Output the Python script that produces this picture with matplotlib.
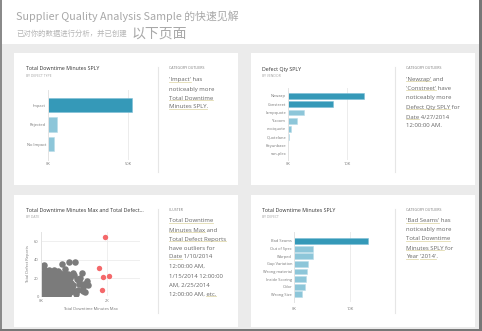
import matplotlib
matplotlib.use("Agg")
import matplotlib.pyplot as plt
from matplotlib.patches import Rectangle
from matplotlib.lines import Line2D

W, H = 482, 331
BODY = ["Open Sans", "DejaVu Sans"]
CJK = ["Noto Sans CJK SC", "DejaVu Sans"]
DARK = "#3599b8"
LIGHT = "#8dc6d9"

# card 1: total downtime by defect type
defect_types = ["Impact", "Rejected", "No Impact"]
downtime_by_type = [52500, 5600, 3800]

# card 2: defect qty by vendor
vendors = ["Newzap", "Constreet", "Iampquote", "Y-zoom", "ecotquote",
           "Quotelane", "Keyunbase", "san-plex"]
defect_qty = [12900, 7600, 2700, 1500, 500, 150, 0, 0]

# card 3: downtime max vs defect reports by date
gray_x = [20, 150, 290, 410, 560, 700, 820,
          60, 210, 340, 480, 620, 760, 880,
          10, 130, 270, 400, 530, 680, 800,
          70, 200, 330, 460, 600, 740,
          30, 160, 300, 430, 570, 690, 830,
          90, 220, 360, 500, 640, 760,
          40, 180, 310, 450, 590, 700,
          110, 250, 380, 520, 101, 60,
          85, 225, 350, 490, 630, 770,
          15, 140, 280, 420, 545, 690, 850,
          95, 235, 365, 505, 655, 780,
          20, 165, 295, 440, 575, 720,
          75, 205, 345, 470, 610,
          10, 140, 270, 420, 560, 200, 330,
          640, 859, 1040, 980, 1242, 1010, 1162, 1384, 1420, 1263,
          1111, 1263, 1343, 939, 859, 1080, 900, 980, 1050, 720,
          820, 880, 1000, 1300, 1141, 920, 1180]
gray_y = [1.2, 0.8, 1.5, 0.9, 1.1, 1.4, 0.7,
          5.3, 4.8, 5.6, 4.9, 5.2, 5.4, 4.6,
          9.1, 8.8, 9.4, 9.0, 8.7, 9.3, 9.5,
          13.2, 12.8, 13.4, 13.0, 12.6, 13.3,
          17.1, 16.7, 17.4, 16.9, 17.2, 17.0, 16.5,
          21.2, 20.8, 21.5, 21.0, 20.6, 21.3,
          25.1, 24.7, 25.3, 24.9, 25.4, 24.6,
          29.0, 28.6, 29.2, 27.8, 33.9, 31.5,
          3.1, 2.8, 3.3, 2.9, 3.2, 2.7,
          7.2, 6.9, 7.4, 7.0, 6.8, 7.3, 7.1,
          11.1, 10.8, 11.3, 10.9, 11.2, 10.7,
          15.2, 14.8, 15.3, 14.9, 15.1, 15.4,
          19.1, 18.8, 19.2, 18.9, 19.3,
          22.9, 23.2, 22.8, 23.1, 22.7, 27.2, 27.0,
          35.5, 37.1, 37.1, 25.5, 25.5, 23.0, 16.4, 16.4, 12.7, 9.8,
          7.3, 5.5, 4.7, 9.1, 3.6, 19.0, 15.0, 12.0, 2.0, 30.0,
          24.0, 20.0, 6.0, 13.0, 13.5, 5.5, 20.5]
red_x = [1949, 1768, 1869, 2060, 1838]
red_y = [64.8, 30.6, 20.7, 22.6, 6.9]

# card 4: total downtime by defect
defects = ["Bad Seams", "Out of Spec", "Warped", "Gap Variation",
           "Wrong material", "Inside Scoring", "Odor", "Wrong Size"]
downtime_by_defect = [13200, 3400, 3400, 2500, 2400, 2100, 2000, 1400]

fig = plt.figure(figsize=(W / 100, H / 100), dpi=100)
renderer = fig.canvas.get_renderer()


def fx(x):
    return x / W


def fy(y):
    return 1 - y / H


def rect(x0, y0, x1, y1, color, z=0):
    fig.add_artist(Rectangle((fx(x0), fy(y1)), (x1 - x0) / W, (y1 - y0) / H,
                             transform=fig.transFigure, facecolor=color,
                             edgecolor="none", zorder=z))


def vline(x, y0, y1, color="#e6e6e6", lw=0.8):
    fig.add_artist(Line2D([fx(x), fx(x)], [fy(y0), fy(y1)],
                          transform=fig.transFigure, color=color, lw=lw, zorder=2))


def txt(x, y, s, size, color, **kw):
    kw.setdefault("family", BODY)
    return fig.text(fx(x), fy(y), s, fontsize=size, color=color, va="center",
                    zorder=4, **kw)


def text_width(s, size):
    t = fig.text(0, 0, s + "|", fontsize=size, family=BODY)
    bar = fig.text(0, 0, "|", fontsize=size, family=BODY)
    w = t.get_window_extent(renderer).width - bar.get_window_extent(renderer).width
    t.remove()
    bar.remove()
    return w


def rich_line(x, y, line, underlined=(), size=4.3, color="#666666"):
    t = txt(x, y, line, size, color)
    bb = t.get_window_extent(renderer)
    for seg in underlined:
        start = line.index(seg)
        x0 = bb.x0 + text_width(line[:start], size)
        x1 = bb.x0 + text_width(line[:start + len(seg)], size)
        fig.add_artist(Line2D([x0 / W, x1 / W], [(bb.y0 + 0.3) / H] * 2,
                              transform=fig.transFigure, color="#e2dbb0",
                              lw=0.6, zorder=4))


def px_axes(x0, y0, x1, y1):
    ax = fig.add_axes([fx(x0), fy(y1), (x1 - x0) / W, (y1 - y0) / H])
    ax.set_zorder(3)
    ax.patch.set_alpha(0)
    for side in ("top", "right", "bottom"):
        ax.spines[side].set_visible(False)
    ax.spines["left"].set_color("#e3e3e3")
    ax.spines["left"].set_linewidth(0.7)
    ax.tick_params(length=0, labelsize=2.9, colors="#777777")
    return ax


def bar_card(box, cats, vals, n_dark, xmax, tick, ticklabel, ylims, height, xpad):
    ax = px_axes(*box)
    colors = [DARK if i < n_dark else LIGHT for i in range(len(cats))]
    edges = ["#7fc0d6" if i < n_dark else "#b9dce8" for i in range(len(cats))]
    ax.barh(range(len(cats)), vals, height=height, color=colors,
            edgecolor=edges, linewidth=0.4, zorder=2)
    ax.axvline(tick, color="#ececec", lw=0.7, zorder=0)
    ax.set_xlim(0, xmax)
    ax.set_ylim(*ylims)
    ax.set_yticks(range(len(cats)), cats)
    ax.set_xticks([0, tick], ["0K", ticklabel])
    ax.tick_params(axis="y", pad=1.4)
    ax.tick_params(axis="x", pad=xpad)
    for lab in ax.get_xticklabels() + ax.get_yticklabels():
        lab.set_family(BODY)
    return ax


# page background and frame
rect(0, 0, W, H, "#ebebeb")
rect(0, 0, W, 44, "#ffffff")
rect(0, 0, 2, H, "#8a8a8a", z=5)
rect(479, 0, W, H, "#777777", z=5)
rect(0, 329, W, H, "#777777", z=5)

txt(16, 16, "Supplier Quality Analysis Sample 的快速见解", 7.8, "#a8a8a8", family=CJK)
txt(16, 34, "已对你的数据进行分析，并已创建", 5.3, "#b5b5b5", family=CJK)
txt(132, 34, "以下页面", 10.0, "#a8a8a8", family=CJK)

# cards
for x0, y0 in ((14, 53), (251, 53), (14, 195), (251, 195)):
    rect(x0, y0, x0 + 224, y0 + 132, "#ffffff", z=1)

# card titles
for x, y, title, sub in ((26, 69, "Total Downtime Minutes SPLY", "BY DEFECT TYPE"),
                         (262, 69, "Defect Qty SPLY", "BY VENDOR"),
                         (26, 211, "Total Downtime Minutes Max and Total Defect...", "BY DATE"),
                         (262, 211, "Total Downtime Minutes SPLY", "BY DEFECT")):
    txt(x, y, title, 3.8, "#333333")
    txt(x, y + 6.5, sub, 2.4, "#a0a0a0")

# separators and insight headers
for x, y0, y1 in ((158, 67, 172), (395, 67, 172), (158, 209, 313), (395, 209, 313)):
    vline(x, y0, y1)
txt(169, 68, "CATEGORY OUTLIERS", 2.5, "#777777")
txt(406, 68, "CATEGORY OUTLIERS", 2.5, "#777777")
txt(169, 210, "CLUSTER", 2.5, "#777777")
txt(406, 210, "CATEGORY OUTLIERS", 2.5, "#777777")

bar_card((48, 90, 140, 160), defect_types, downtime_by_type, 1, 57500,
         50000, "50K", (2.82, -0.77), 0.72, 1.6)
bar_card((288, 88, 380, 160), vendors, defect_qty, 2, 15600,
         10000, "10K", (7.77, -0.97), 0.69, 1.6)
bar_card((294, 232, 384, 302), defects, downtime_by_defect, 1, 16070,
         10000, "10K", (8.0, -1.18), 0.78, 3.6)

# scatter card
ax = px_axes(41, 232, 140, 296.3)
ax.scatter(gray_x, gray_y, s=22, color="#7b7b7b", linewidths=0, zorder=2)
ax.scatter(red_x, red_y, s=15, color="#f4686a", linewidths=0, zorder=3)
ax.set_xlim(0, 3000)
ax.set_ylim(0, 70.3)
ax.set_xticks([0, 2000], ["0K", "2K"])
ax.set_yticks([0, 20, 40, 60])
ax.grid(True, color="#ececec", lw=0.6, zorder=0)
ax.tick_params(pad=1.6)
ax.set_xlabel("Total Downtime Minutes Max", fontsize=2.9, color="#777777",
              family=BODY, labelpad=3)
ax.set_ylabel("Total Defect Reports", fontsize=2.9, color="#777777",
              family=BODY, labelpad=3)
for lab in ax.get_xticklabels() + ax.get_yticklabels():
    lab.set_family(BODY)

# insight text
rich_line(169, 80, "'Impact' has", ["'Impact'"])
rich_line(169, 89, "noticeably more")
rich_line(169, 98, "Total Downtime", ["Total Downtime"])
rich_line(169, 107, "Minutes SPLY.", ["Minutes SPLY"])

rich_line(406, 79, "'Newzap' and", ["'Newzap'"])
rich_line(406, 88, "'Constreet' have", ["'Constreet'"])
rich_line(406, 97, "noticeably more")
rich_line(406, 107, "Defect Qty SPLY for", ["Defect Qty SPLY"])
rich_line(406, 117, "Date 4/27/2014", ["Date"])
rich_line(406, 126, "12:00:00 AM.")

rich_line(169, 221, "Total Downtime", ["Total Downtime"])
rich_line(169, 230, "Minutes Max and", ["Minutes Max"])
rich_line(169, 239, "Total Defect Reports", ["Total Defect Reports"])
rich_line(169, 248, "have outliers for")
rich_line(169, 257, "Date 1/10/2014", ["Date"])
rich_line(169, 266, "12:00:00 AM,")
rich_line(169, 276, "1/15/2014 12:00:00")
rich_line(169, 285, "AM, 2/25/2014")
rich_line(169, 294, "12:00:00 AM, etc.", ["etc."])

rich_line(406, 221, "'Bad Seams' has", ["'Bad Seams'"])
rich_line(406, 230, "noticeably more")
rich_line(406, 239, "Total Downtime", ["Total Downtime"])
rich_line(406, 248, "Minutes SPLY for", ["Minutes SPLY"])
rich_line(406, 257, "Year '2014'.", ["Year", "'2014'"])

fig.savefig("out.png", dpi=100)
